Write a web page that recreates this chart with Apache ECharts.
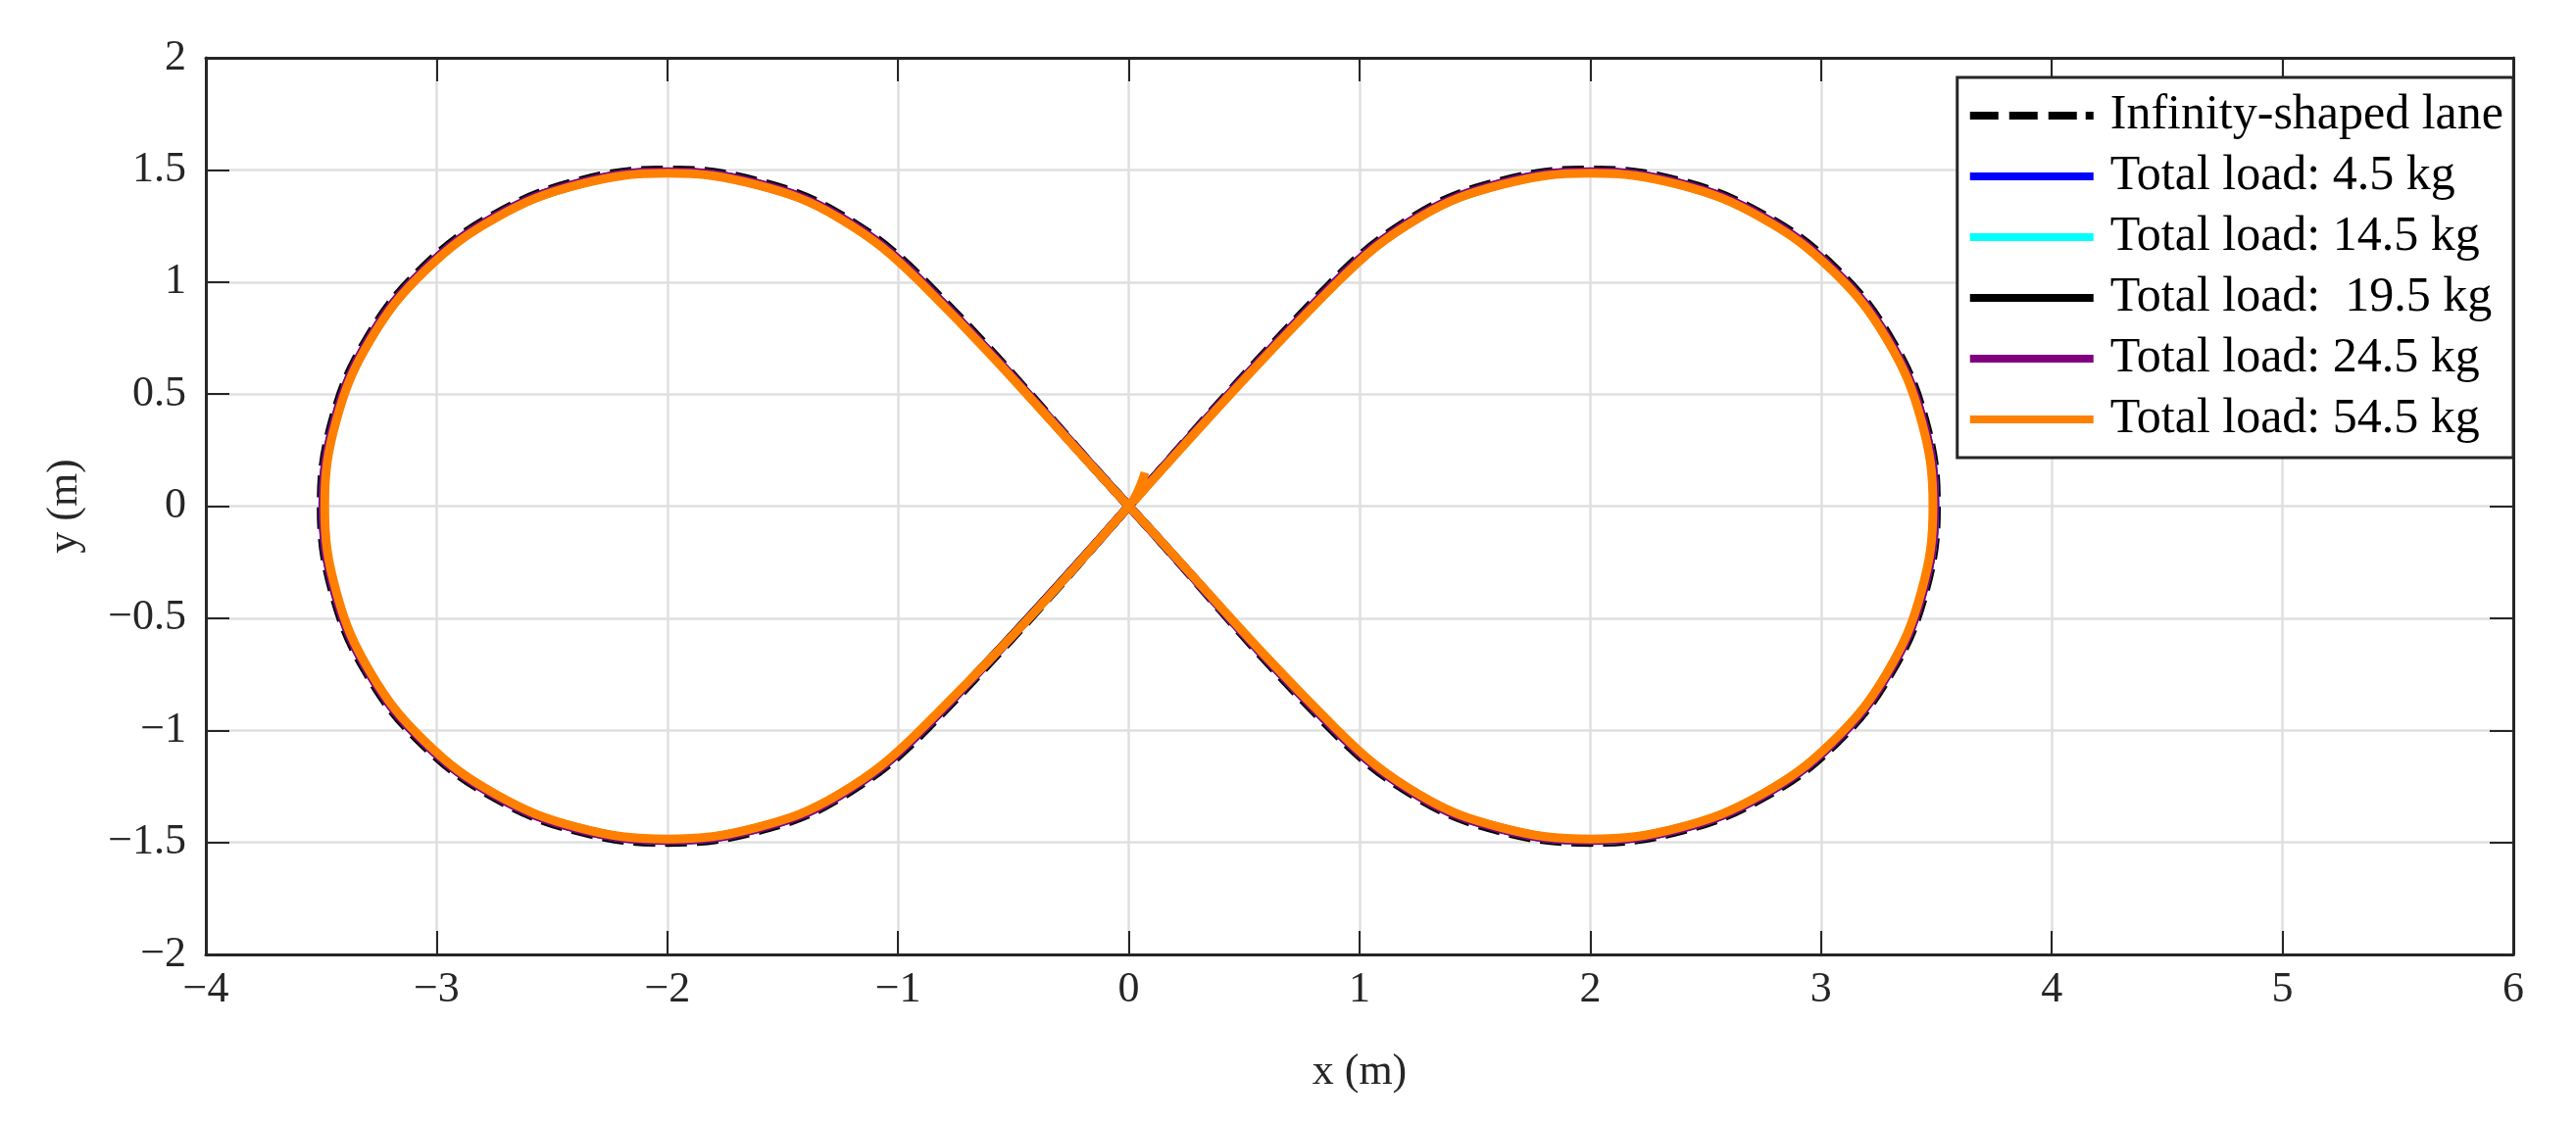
<!DOCTYPE html>
<html>
<head>
    <meta charset="utf-8">
    <script src="https://cdn.jsdelivr.net/npm/echarts@6/dist/echarts.min.js"></script>
    <style>
        body{
            margin:0;
            padding:0;
            background:#fff;
        }
    </style>
</head>
<body>
<div id="main" style="width:2628px;height:1146px;"></div>
<script type="text/javascript">
// axis ticks
let xTicks = [-4, 6, 1];
let yTicks = [-2, 2, 0.5];

let seriesNames = ['Infinity-shaped lane', 'Total load: 4.5 kg', 'Total load: 14.5 kg',
  'Total load:  19.5 kg', 'Total load: 24.5 kg', 'Total load: 54.5 kg'];

// reference lane (x, y) in m
let lane = [[0,0],[0.875,0.992],[1.25,1.299],[1.612,1.449],[2,1.5],[2.388,1.449],[2.75,1.299],[3.061,1.061],[3.299,0.75],[3.449,0.388],[3.5,0],
  [3.449,-0.388],[3.299,-0.75],[3.061,-1.061],[2.75,-1.299],[2.388,-1.449],[2,-1.5],[1.612,-1.449],[1.25,-1.299],[0.875,-0.992],[0,0],
  [-0.875,0.992],[-1.25,1.299],[-1.612,1.449],[-2,1.5],[-2.388,1.449],[-2.75,1.299],[-3.061,1.061],[-3.299,0.75],[-3.449,0.388],[-3.5,0],
  [-3.449,-0.388],[-3.299,-0.75],[-3.061,-1.061],[-2.75,-1.299],[-2.388,-1.449],[-2,-1.5],[-1.612,-1.449],[-1.25,-1.299],[-0.875,-0.992],[0,0]];

// measured trajectories
let load4_5 = [[0,0],[-0.89,-0.993],[-1.255,-1.291],[-1.615,-1.44],[-2,-1.491],[-2.385,-1.44],[-2.746,-1.291],[-3.054,-1.054],[-3.291,-0.745],[-3.44,-0.386],[-3.493,0],
  [-3.44,0.386],[-3.291,0.745],[-3.054,1.054],[-2.746,1.291],[-2.385,1.44],[-2,1.491],[-1.615,1.44],[-1.255,1.291],[-0.89,0.993],[0,0],
  [0.89,-0.993],[1.255,-1.291],[1.615,-1.44],[2,-1.491],[2.385,-1.44],[2.746,-1.291],[3.054,-1.054],[3.291,-0.745],[3.44,-0.386],[3.494,0],
  [3.44,0.386],[3.291,0.745],[3.054,1.054],[2.746,1.291],[2.385,1.44],[2,1.491],[1.615,1.44],[1.255,1.291],[0.89,0.993],[0,0]];
let load14_5 = [[0,0],[-0.89,-0.993],[-1.256,-1.29],[-1.615,-1.439],[-2,-1.49],[-2.385,-1.439],[-2.745,-1.29],[-3.054,-1.054],[-3.29,-0.745],[-3.439,-0.385],[-3.491,0],
  [-3.439,0.385],[-3.29,0.745],[-3.054,1.054],[-2.745,1.29],[-2.385,1.439],[-2,1.491],[-1.615,1.439],[-1.256,1.29],[-0.89,0.993],[0,0],
  [0.89,-0.993],[1.256,-1.29],[1.615,-1.439],[2,-1.491],[2.385,-1.439],[2.745,-1.29],[3.054,-1.054],[3.29,-0.745],[3.439,-0.385],[3.492,0],
  [3.439,0.385],[3.29,0.745],[3.054,1.054],[2.745,1.29],[2.385,1.439],[2,1.49],[1.615,1.439],[1.256,1.29],[0.89,0.993],[0,0]];
let load19_5 = [[0,0],[-0.893,-0.994],[-1.256,-1.288],[-1.616,-1.437],[-2,-1.488],[-2.384,-1.437],[-2.744,-1.288],[-3.052,-1.052],[-3.288,-0.744],[-3.437,-0.385],[-3.488,0],
  [-3.437,0.385],[-3.288,0.744],[-3.052,1.052],[-2.744,1.288],[-2.384,1.437],[-2,1.488],[-1.616,1.437],[-1.256,1.288],[-0.893,0.994],[0,0],
  [0.893,-0.994],[1.256,-1.288],[1.616,-1.437],[2,-1.488],[2.384,-1.437],[2.744,-1.288],[3.052,-1.052],[3.288,-0.744],[3.437,-0.385],[3.488,0],
  [3.437,0.385],[3.288,0.744],[3.052,1.052],[2.744,1.288],[2.384,1.437],[2,1.488],[1.616,1.437],[1.256,1.288],[0.893,0.994],[0,0]];
let load24_5 = [[0,0],[-0.888,-0.993],[-1.254,-1.292],[-1.614,-1.441],[-2,-1.492],[-2.386,-1.441],[-2.746,-1.292],[-3.055,-1.055],[-3.292,-0.746],[-3.441,-0.386],[-3.492,0],
  [-3.441,0.386],[-3.292,0.746],[-3.055,1.055],[-2.746,1.292],[-2.386,1.441],[-2,1.492],[-1.614,1.441],[-1.254,1.292],[-0.888,0.993],[0,0],
  [0.888,-0.993],[1.254,-1.292],[1.614,-1.441],[2,-1.492],[2.386,-1.441],[2.746,-1.292],[3.055,-1.055],[3.292,-0.746],[3.441,-0.386],[3.492,0],
  [3.441,0.386],[3.292,0.746],[3.055,1.055],[2.746,1.292],[2.386,1.441],[2,1.492],[1.614,1.441],[1.254,1.292],[0.888,0.993],[0,0]];
let load54_5 = [[0.07,0.15],[0,0],[-0.9,-0.995],[-1.257,-1.286],[-1.616,-1.434],[-2,-1.485],[-2.384,-1.434],[-2.743,-1.286],[-3.05,-1.05],[-3.286,-0.743],[-3.434,-0.384],[-3.485,0],
  [-3.434,0.384],[-3.286,0.743],[-3.05,1.05],[-2.743,1.286],[-2.384,1.434],[-2,1.485],[-1.616,1.434],[-1.257,1.286],[-0.9,0.995],[0,0],
  [0.9,-0.995],[1.257,-1.286],[1.616,-1.434],[2,-1.485],[2.384,-1.434],[2.743,-1.286],[3.05,-1.05],[3.286,-0.743],[3.434,-0.384],[3.485,0],
  [3.434,0.384],[3.286,0.743],[3.05,1.05],[2.743,1.286],[2.384,1.434],[2,1.485],[1.616,1.434],[1.257,1.286],[0.9,0.995],[0.02,0.02]];

let seriesData = [lane, load4_5, load14_5, load19_5, load24_5, load54_5];
let seriesColors = ['#000000', '#0000ff', '#00ffff', '#000000', '#800080', '#ff8000'];

var myChart = echarts.init(document.getElementById('main'));

var font = 'Liberation Serif';
var axisColor = '#262626';
function fmt(v) {
  return String(v).replace('-', '\u2212');
}

function boxAxis(pos, isX) {
  return {
    type: 'value',
    position: pos,
    min: isX ? xTicks[0] : yTicks[0],
    max: isX ? xTicks[1] : yTicks[1],
    interval: isX ? xTicks[2] : yTicks[2],
    axisLine: { show: true, onZero: false, lineStyle: { color: axisColor, width: 3 } },
    axisTick: { show: true, inside: true, length: 24, lineStyle: { color: axisColor, width: 2 } },
    axisLabel: { show: false },
    splitLine: { show: false }
  };
}

// legend keys: dashed bar for the lane, solid bars for the rest
var dashIcon = 'path://M0,0h29v8h-29z M40,0h29v8h-29z M80,0h29v8h-29z M118,0h8v8h-8z';
var legendData = seriesNames.map(function (name, i) {
  return { name: name, icon: i === 0 ? dashIcon : 'rect' };
});

option = {
  animation: false,
  backgroundColor: '#fff',
  grid: {
    left: 210,
    right: 64,
    top: 59,
    bottom: 172
  },
  legend: {
    orient: 'vertical',
    right: 64,
    top: 79,
    data: legendData,
    backgroundColor: '#fff',
    borderColor: axisColor,
    borderWidth: 3,
    borderRadius: 0,
    padding: [14, 10, 14, 13],
    itemWidth: 126,
    itemHeight: 8,
    itemGap: 12,
    textStyle: { fontFamily: font, fontSize: 50, color: '#000', lineHeight: 50, padding: [0, 0, 0, 12] }
  },
  xAxis: [
    {
      type: 'value',
      min: xTicks[0],
      max: xTicks[1],
      interval: xTicks[2],
      name: 'x (m)',
      nameLocation: 'middle',
      nameGap: 98,
      nameTextStyle: { fontFamily: font, fontSize: 44, color: axisColor },
      axisLine: { show: true, onZero: false, lineStyle: { color: axisColor, width: 3 } },
      axisTick: { show: true, inside: true, length: 24, lineStyle: { color: axisColor, width: 2 } },
      axisLabel: { fontFamily: font, fontSize: 44, color: axisColor, margin: 14, formatter: fmt },
      splitLine: { show: true, lineStyle: { color: '#dfdfdf', width: 2.5 } }
    },
    boxAxis('top', true)
  ],
  yAxis: [
    {
      type: 'value',
      min: yTicks[0],
      max: yTicks[1],
      interval: yTicks[2],
      name: 'y (m)',
      nameLocation: 'middle',
      nameGap: 122,
      nameTextStyle: { fontFamily: font, fontSize: 44, color: axisColor },
      axisLine: { show: true, onZero: false, lineStyle: { color: axisColor, width: 3 } },
      axisTick: { show: true, inside: true, length: 24, lineStyle: { color: axisColor, width: 2 } },
      axisLabel: { fontFamily: font, fontSize: 44, color: axisColor, margin: 20, formatter: fmt },
      splitLine: { show: true, lineStyle: { color: '#dfdfdf', width: 2.5 } }
    },
    boxAxis('right', false)
  ],
  series: seriesNames.map(function (name, i) {
    return {
      name: name,
      type: 'line',
      xAxisIndex: 0,
      yAxisIndex: 0,
      data: seriesData[i],
      showSymbol: false,
      symbol: 'none',
      smooth: 0.4,
      color: seriesColors[i],
      itemStyle: { color: seriesColors[i] },
      lineStyle: {
        color: seriesColors[i],
        width: 9,
        type: i === 0 ? [22, 10] : 'solid'
      },
      z: 2 + i
    };
  })
};
myChart.setOption(option);
</script>
</body>
</html>
